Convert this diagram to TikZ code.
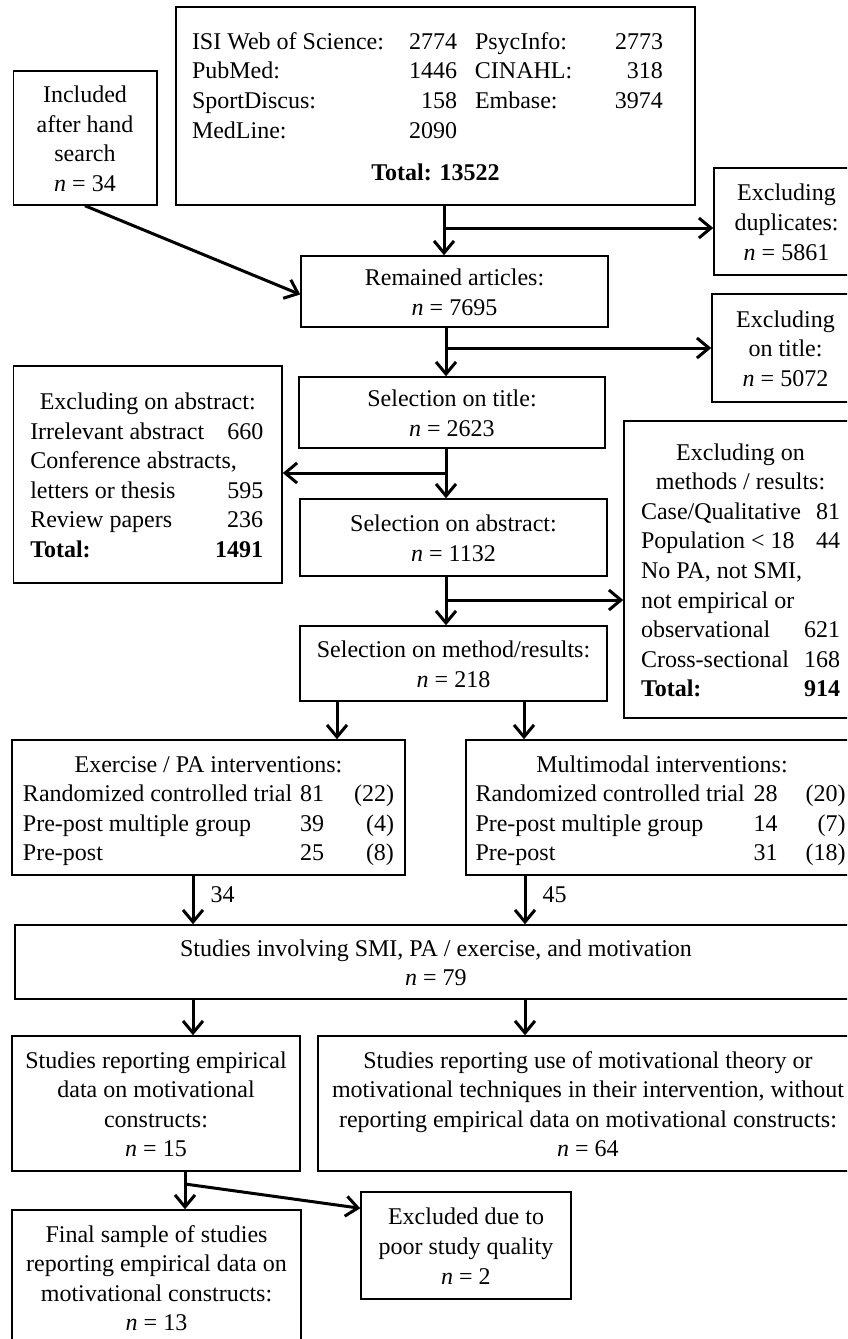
\documentclass[tikz,border=0pt]{standalone}
\usepackage{fontspec}
\setmainfont{Liberation Serif}
\usetikzlibrary{arrows.meta}
\newcommand\fsz{\fontsize{12}{14.8}\selectfont}
\newcommand\rowfill[3]{\makebox[#1][s]{#2\hfill #3}}
\newcommand\nn[1]{\textit{n} = #1}
\renewcommand\strut{\rule[-2.94pt]{0pt}{14.8pt}}
\tikzset{
  box/.style={draw, line width=0.75pt, inner sep=0pt, align=center, font=\fsz},
  arr/.style={line width=1.5pt, -{Straight Barb[length=6pt,width=10pt]}},
  lbl/.style={font=\fsz, inner sep=0pt, anchor=west}
}
\begin{document}
\begin{tikzpicture}[x=0.5pt,y=-0.5pt]
\useasboundingbox (0,0) rectangle (847,1339);
\clip (0,0) rectangle (847,1339);
\fill[white] (0,0) rectangle (847,1339);

\node[box, minimum width=259.5pt, minimum height=99pt] (top) at (435.5,106) {%
\strut\rowfill{132.5pt}{ISI Web of Science:}{2774}\kern9pt\rowfill{94pt}{PsycInfo:}{2773}\kern8pt\\
\strut\rowfill{132.5pt}{PubMed:}{1446}\kern9pt\rowfill{94pt}{CINAHL:}{318}\kern8pt\\
\strut\rowfill{132.5pt}{SportDiscus:}{158}\kern9pt\rowfill{94pt}{Embase:}{3974}\kern8pt\\
\strut\rowfill{132.5pt}{MedLine:}{2090}\kern9pt\rowfill{94pt}{}{}\kern8pt\\[6.5pt]
\strut\textbf{Total: 13522}};

\node[box, minimum width=71.75pt, minimum height=67pt] (incl) at (85,138) {%
\strut Included\\\strut after hand\\\strut search\\\strut\nn{34}};

\node[box, minimum width=72.5pt, minimum height=53.5pt] (dup) at (786.5,221.5) {%
\strut Excluding\\\strut duplicates:\\\strut\nn{5861}};

\node[box, minimum width=153.5pt, minimum height=35.5pt] (rem) at (454.5,291.5) {%
\strut Remained articles:\\\strut\nn{7695}};

\node[box, minimum width=73.5pt, minimum height=54pt] (extitle) at (785.5,348) {%
\strut Excluding\\\strut on title:\\\strut\nn{5072}};

\node[box, minimum width=153pt, minimum height=35.5pt] (seltitle) at (452,412.5) {%
\strut Selection on title:\\\strut\nn{2623}};

\node[box, minimum width=134.25pt, minimum height=108.5pt] (exabs) at (147.75,474.5) {%
\strut Excluding on abstract:\\
\strut\rowfill{116.5pt}{Irrelevant abstract}{660}\kern1pt\\
\strut\rowfill{116.5pt}{Conference abstracts,}{}\kern1pt\\
\strut\rowfill{116.5pt}{letters or thesis}{595}\kern1pt\\
\strut\rowfill{116.5pt}{Review papers}{236}\kern1pt\\
\strut\rowfill{116.5pt}{\textbf{Total:}}{\textbf{1491}}\kern1pt};

\node[box, minimum width=153.5pt, minimum height=38.5pt] (selabs) at (453.5,537.5) {%
\strut Selection on abstract:\\\strut\nn{1132}};

\node[box, minimum width=116.5pt, minimum height=148.5pt] (exmeth) at (740.5,569.5) {%
\strut Excluding on\\
\strut methods / results:\\
\strut\rowfill{99.5pt}{Case/Qualitative}{81}\\
\strut\rowfill{99.5pt}{Population < 18}{44}\\
\strut\rowfill{99.5pt}{No PA, not SMI,}{}\\
\strut\rowfill{99.5pt}{not empirical or}{}\\
\strut\rowfill{99.5pt}{observational}{621}\\
\strut\rowfill{99.5pt}{Cross-sectional}{168}\\
\strut\rowfill{99.5pt}{\textbf{Total:}}{\textbf{914}}};

\node[box, minimum width=153.5pt, minimum height=37.5pt] (selmeth) at (453.5,663.5) {%
\strut Selection on method/results:\\\strut\nn{218}};

\node[box, minimum width=196.5pt, minimum height=67.5pt] (exer) at (208.5,807.5) {%
\strut Exercise / PA interventions:\\
\strut\rowfill{150.5pt}{Randomized controlled trial}{81}\rowfill{35pt}{}{(22)}\\
\strut\rowfill{150.5pt}{Pre-post multiple group}{39}\rowfill{35pt}{}{(4)}\\
\strut\rowfill{150.5pt}{Pre-post}{25}\rowfill{35pt}{}{(8)}};

\node[box, minimum width=196pt, minimum height=67.5pt] (multi) at (662,807.5) {%
\strut Multimodal interventions:\\
\strut\rowfill{151pt}{Randomized controlled trial}{28}\rowfill{34pt}{}{(20)}\kern1.5pt\\
\strut\rowfill{151pt}{Pre-post multiple group}{14}\rowfill{34pt}{}{(7)}\kern1.5pt\\
\strut\rowfill{151pt}{Pre-post}{31}\rowfill{34pt}{}{(18)}\kern1.5pt};

\node[box, minimum width=421pt, minimum height=37pt] (involv) at (436,962) {%
\strut Studies involving SMI, PA / exercise, and motivation\\\strut\nn{79}};

\node[box, minimum width=144pt, minimum height=67.5pt] (emp) at (156,1103.5) {%
\strut Studies reporting empirical\\\strut data on motivational\\\strut constructs:\\\strut\nn{15}};

\node[box, minimum width=270pt, minimum height=67.5pt] (use) at (588,1103.5) {%
\strut Studies reporting use of motivational theory or\\
\strut motivational techniques in their intervention, without\\
\strut reporting empirical data on motivational constructs:\\
\strut\nn{64}};

\node[box, minimum width=144.5pt, minimum height=67.5pt] (final) at (156.5,1277.5) {%
\strut Final sample of studies\\\strut reporting empirical data on\\\strut motivational constructs:\\\strut\nn{13}};

\node[box, minimum width=105pt, minimum height=53.5pt] (poor) at (466,1245.5) {%
\strut Excluded due to\\\strut poor study quality\\\strut\nn{2}};

% connectors
\coordinate (xa) at (444,0);
\coordinate (xb) at (446,0);
\coordinate (xc) at (337,0);
\coordinate (xd) at (524,0);
\coordinate (xe) at (193,0);
\coordinate (xf) at (525,0);
\coordinate (xg) at (185,0);
\coordinate (b1) at (444,228);
\coordinate (b2) at (446,348);
\coordinate (b3) at (446,473);
\coordinate (b4) at (446,600);
\coordinate (b5) at (185,1184);

\draw[arr] (top.south -| xa) -- (rem.north -| xa);
\draw[arr] (b1) -- (dup.west |- b1);
\draw[arr] (incl.south) -- ([yshift=-1.5pt]rem.west);
\draw[arr] (rem.south -| xb) -- (seltitle.north -| xb);
\draw[arr] (b2) -- (extitle.west |- b2);
\draw[arr] (seltitle.south -| xb) -- (selabs.north -| xb);
\draw[arr] (b3) -- (exabs.east |- b3);
\draw[arr] (selabs.south -| xb) -- (selmeth.north -| xb);
\draw[arr] (b4) -- (exmeth.west |- b4);
\draw[arr] (selmeth.south -| xc) -- (exer.north -| xc);
\draw[arr] (selmeth.south -| xd) -- (multi.north -| xd);
\draw[arr] (exer.south -| xe) -- node[lbl, pos=0.4, xshift=8pt] (l34) {34} (involv.north -| xe);
\draw[arr] (multi.south -| xf) -- node[lbl, pos=0.4, xshift=8pt] (l45) {45} (involv.north -| xf);
\draw[arr] (involv.south -| xe) -- (emp.north -| xe);
\draw[arr] (involv.south -| xf) -- (use.north -| xf);
\draw[arr] (emp.south -| xg) -- (final.north -| xg);
\draw[arr] (b5) -- ([yshift=-8.5pt]poor.north west);
\end{tikzpicture}
\end{document}
